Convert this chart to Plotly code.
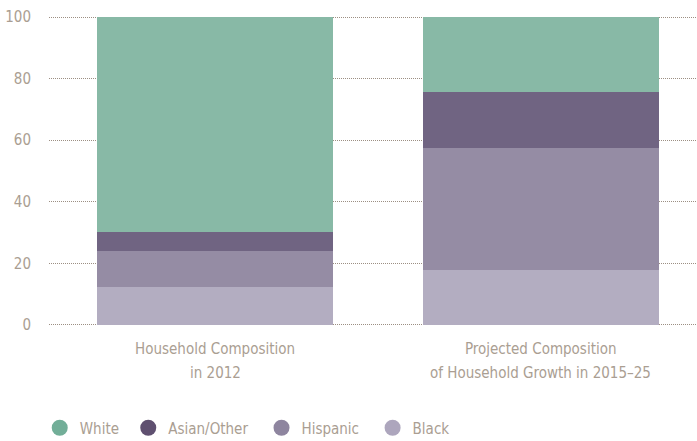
import plotly.graph_objects as go

category_line1 = ["Household Composition", "Projected Composition"]
category_line2 = ["in 2012", "of Household Growth in 2015–25"]
series_names = ["Black", "Hispanic", "Asian/Other", "White"]
legend_names = ["White", "Asian/Other", "Hispanic", "Black"]
black = [12.2, 18.0]
hispanic = [11.9, 39.6]
asian_other = [6.1, 18.1]
white = [69.8, 24.3]
y_ticks = [0, 20, 40, 60, 80, 100]

values = {"Black": black, "Hispanic": hispanic, "Asian/Other": asian_other, "White": white}
bar_colors = {"White": "#88b9a6", "Asian/Other": "#706482", "Hispanic": "#958ca4", "Black": "#b3adc1"}
legend_colors = {"White": "#72ae98", "Asian/Other": "#5f5070", "Hispanic": "#8e859f", "Black": "#ada6bd"}
legend_pad = {"White": 1, "Asian/Other": 2, "Hispanic": 2, "Black": 0}

FONT = "DejaVu Sans Condensed, DejaVu Sans, sans-serif"
TXT = "#aa9e92"

fig = go.Figure()
xs = list(range(len(category_line1)))
for name in series_names:
    fig.add_trace(go.Bar(x=xs, y=values[name], name=name,
                         marker=dict(color=bar_colors[name], line=dict(width=0)),
                         width=0.725, showlegend=False, hoverinfo="y+name"))
for name in legend_names:
    fig.add_trace(go.Scatter(x=[None], y=[None], mode="markers",
                             name=name + "\u00a0" * legend_pad[name],
                             marker=dict(symbol="circle", size=16, color=legend_colors[name])))

for i, t in enumerate(category_line2):
    fig.add_annotation(x=xs[i], xref="x", y=0, yref="paper", yanchor="top", yshift=-34,
                       text=t, showarrow=False, font=dict(size=15, color=TXT, family=FONT))

fig.update_layout(
    barmode="stack",
    width=697, height=441,
    margin=dict(l=49, r=0, t=14, b=113, autoexpand=False),
    paper_bgcolor="white", plot_bgcolor="white",
    font=dict(family=FONT, color=TXT, size=15),
    legend=dict(orientation="h", x=0.057, xref="container", y=1 - 428 / 441, yref="container",
                yanchor="middle", font=dict(size=15, color=TXT), traceorder="normal"),
    xaxis=dict(tickmode="array", tickvals=xs, ticktext=category_line1, range=[-0.51, 1.48],
               showgrid=False, zeroline=False, showline=False, ticks="outside", ticklen=7,
               tickcolor="rgba(0,0,0,0)", tickfont=dict(size=15, color=TXT), automargin=False),
    yaxis=dict(range=[-1, 101], tickvals=y_ticks, showgrid=True, gridcolor="#9c8f83",
               griddash="1px,1px", gridwidth=1, zeroline=False, showline=False, ticks="outside",
               ticklen=14, tickcolor="rgba(0,0,0,0)", tickfont=dict(size=15, color=TXT),
               automargin=False),
)
fig.write_html("out.html", post_script="document.body.style.margin='0';",
               config={"displayModeBar": False})
